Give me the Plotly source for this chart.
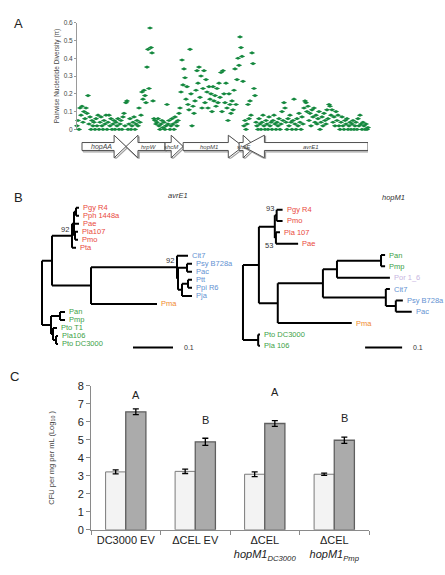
import plotly.graph_objects as go

# ---------------- Panel A data ----------------
WINDOW_STEP_BP = 31
DIVERSITY = [
    0.02, 0.05, 0.0, 0.12, 0.08, 0.13, 0.04, 0.10, 0.06, 0.12,
    0.09, 0.19, 0.03, 0.07, 0.0, 0.05, 0.02, 0.04, 0.0, 0.06,
    0.02, 0.08, 0.0, 0.04, 0.07, 0.02, 0.0, 0.05, 0.03, 0.08,
    0.0, 0.04, 0.08, 0.02, 0.06, 0.0, 0.03, 0.05, 0.0, 0.04,
    0.02, 0.06, 0.0, 0.03, 0.05, 0.0, 0.07, 0.09, 0.02, 0.15,
    0.16, 0.0, 0.03, 0.06, 0.0, 0.02, 0.04, 0.07, 0.0, 0.03,
    0.05, 0.02, 0.12, 0.04, 0.08, 0.21, 0.17, 0.22, 0.19, 0.15,
    0.35, 0.45, 0.23, 0.57, 0.46, 0.43, 0.16, 0.06, 0.05, 0.03,
    0.04, 0.06, 0.02, 0.0, 0.03, 0.05, 0.01, 0.04, 0.0, 0.02,
    0.14, 0.03, 0.05, 0.0, 0.02, 0.06, 0.03, 0.0, 0.07, 0.04,
    0.02, 0.05, 0.09, 0.12, 0.21, 0.39, 0.25, 0.34, 0.29, 0.17,
    0.24, 0.14, 0.11, 0.45, 0.20, 0.02, 0.13, 0.09, 0.16, 0.22,
    0.33, 0.26, 0.35, 0.18, 0.30, 0.12, 0.23, 0.33, 0.15, 0.28,
    0.21, 0.12, 0.24, 0.17, 0.20, 0.10, 0.24, 0.16, 0.19, 0.13,
    0.23, 0.15, 0.26, 0.18, 0.32, 0.10, 0.33, 0.20, 0.15, 0.26,
    0.12, 0.05, 0.20, 0.14, 0.09, 0.16, 0.11, 0.22, 0.34, 0.14,
    0.28, 0.40, 0.36, 0.52, 0.46, 0.41, 0.27, 0.02, 0.05, 0.0,
    0.03, 0.14, 0.06, 0.16, 0.08, 0.43, 0.37, 0.23, 0.19, 0.04,
    0.02, 0.0, 0.06, 0.03, 0.0, 0.04, 0.08, 0.02, 0.0, 0.05,
    0.03, 0.0, 0.07, 0.02, 0.04, 0.0, 0.05, 0.08, 0.03, 0.0,
    0.04, 0.02, 0.06, 0.0, 0.03, 0.10, 0.05, 0.15, 0.12, 0.04,
    0.0, 0.06, 0.02, 0.08, 0.04, 0.0, 0.05, 0.17, 0.03, 0.0,
    0.06, 0.02, 0.09, 0.04, 0.0, 0.07, 0.03, 0.12, 0.16, 0.15,
    0.10, 0.13, 0.05, 0.09, 0.02, 0.11, 0.07, 0.12, 0.04, 0.08,
    0.03, 0.06, 0.10, 0.0, 0.04, 0.07, 0.02, 0.09, 0.05, 0.03,
    0.11, 0.06, 0.14, 0.13, 0.08, 0.11, 0.04, 0.07, 0.02, 0.10,
    0.05, 0.08, 0.02, 0.0, 0.04, 0.07, 0.02, 0.0, 0.05, 0.03,
    0.06, 0.0, 0.02, 0.04, 0.0, 0.03, 0.05, 0.0, 0.02, 0.04,
    0.0, 0.06, 0.02, 0.08, 0.03, 0.0, 0.04, 0.02, 0.0, 0.03,
    0.0, 0.01,
]
POSITIONS = [i * WINDOW_STEP_BP for i in range(len(DIVERSITY))]
DIV_TICKS = [0, 0.1, 0.2, 0.3, 0.4, 0.5, 0.6]

GENES = ["hopAA", "hrpW", "shcM", "hopM1", "shcE", "avrE1"]
GENE_START = [155, 1520, 2730, 3290, 5025, 5150]
GENE_END = [1520, 2730, 3290, 5150, 5520, 9021]
GENE_STRAND = [1, -1, 1, 1, 1, -1]

# ---------------- Panel B data (trees, branch lengths) ----------------
AVRE1_TREE = ("(((((Pgy R4:0.0075,Pph 1448a:0.0075):0.005,Pae:0.0125,(Pla107:0.0075,Pmo:0.0075):0.0025):0.005,"
              "Pta:0.01)92:0.05,((Cit7:0.0275,((Psy B728a:0.0125,Pac:0.0125):0.0225,((Ptt:0.01,Ppi R6:0.01):0.015,"
              "Pja:0.025):0.01):0.0025)92:0.215,Pma:0.165):0.0975):0.025,((Pan:0.0125,Pmp:0.0125):0.0225,"
              "(Pto T1:0.01,(Pla106:0.005,Pto DC3000:0.005):0.0075):0.005):0.0225);")
HOPM1_TREE = ("((((Pgy R4:0.016,Pmo:0.016)93:0.005,(Pla 107:0.011,Pae:0.06)53:0.003):0.043,"
              "((((Pan:0.011,Pmp:0.011):0.119,Por 1_6:0.143):0.038,(Cit7:0.011,(Psy B728a:0.019,Pac:0.043):0.027):0.17):0.122,"
              "Pma:0.2):0.051):0.043,(Pto DC3000:0.005,Pla 106:0.005):0.041);")
SCALE_BAR_LEN = 0.1

GROUP_RED = ["Pgy R4", "Pph 1448a", "Pae", "Pla107", "Pmo", "Pta", "Pla 107"]
GROUP_BLUE = ["Cit7", "Psy B728a", "Pac", "Ptt", "Ppi R6", "Pja"]
GROUP_GREEN = ["Pan", "Pmp", "Pto T1", "Pla106", "Pto DC3000", "Pla 106"]
GROUP_ORANGE = ["Pma"]
GROUP_PURPLE = ["Por 1_6"]

# ---------------- Panel C data ----------------
STRAINS = ["DC3000 EV", "ΔCEL EV", "ΔCEL<br><i>hopM1</i><sub><i>DC3000</i></sub>",
           "ΔCEL<br><i>hopM1</i><sub><i>Pmp</i></sub>"]
DAY0 = [3.22, 3.25, 3.09, 3.09]
DAY0_ERR = [0.11, 0.12, 0.13, 0.06]
DAY3 = [6.56, 4.89, 5.91, 4.98]
DAY3_ERR = [0.16, 0.2, 0.16, 0.17]
LETTERS = ["A", "B", "A", "B"]
LETTER_Y = [7.51, 6.13, 7.64, 6.22]

# ---------------- styles ----------------
FONT = "Arial, Liberation Sans, sans-serif"
W, H = 445, 575
GREEN_PT = "#14883e"
C_RED = "#e9493d"
C_BLUE = "#6392d2"
C_GREEN = "#3d9f47"
C_ORANGE = "#f08a2c"
C_PURPLE = "#c8b6e2"
HEAD_BP = {"avrE1": 660, "hopM1": 460}
DEFAULT_HEAD = 370


def px_x(p):
    return p / W


def px_y(p):
    return 1 - p / H


def color_of(name):
    if name in GROUP_RED:
        return C_RED
    if name in GROUP_BLUE:
        return C_BLUE
    if name in GROUP_GREEN:
        return C_GREEN
    if name in GROUP_ORANGE:
        return C_ORANGE
    if name in GROUP_PURPLE:
        return C_PURPLE
    return "#333"


def parse_newick(s):
    s = s.strip().rstrip(";")
    pos = 0

    def node():
        nonlocal pos
        n = {"children": [], "name": "", "len": 0.0}
        if s[pos] == "(":
            pos += 1
            while True:
                n["children"].append(node())
                if s[pos] == ",":
                    pos += 1
                    continue
                if s[pos] == ")":
                    pos += 1
                    break
        st = pos
        while pos < len(s) and s[pos] not in ":,()":
            pos += 1
        n["name"] = s[st:pos].strip()
        if pos < len(s) and s[pos] == ":":
            pos += 1
            st = pos
            while pos < len(s) and s[pos] not in ",()":
                pos += 1
            n["len"] = float(s[st:pos])
        return n

    return node()


def layout_tree(root):
    leaves, xs, ys, internals = [], [], [], []

    def rec(n, px):
        x = px + n["len"]
        n["x"] = x
        if not n["children"]:
            n["y"] = len(leaves)
            leaves.append(n)
        else:
            for c in n["children"]:
                rec(c, x)
            cy = [c["y"] for c in n["children"]]
            n["y"] = (cy[0] + cy[-1]) / 2
            xs.extend([x, x, None])
            ys.extend([cy[0], cy[-1], None])
            if n["name"]:
                internals.append(n)
        if n["len"] > 0:
            xs.extend([px, x, None])
            ys.extend([n["y"], n["y"], None])

    rec(root, 0.0)
    return leaves, xs, ys, internals


fig = go.Figure()
annotations = []

# ---------- Panel A: scatter ----------
fig.add_trace(go.Scatter(
    x=POSITIONS, y=DIVERSITY, mode="markers", xaxis="x", yaxis="y",
    marker=dict(symbol="diamond-wide", size=4.5, color=GREEN_PT, line=dict(width=0)),
    cliponaxis=False, showlegend=False, hoverinfo="skip"))

# gene map
for g, s, e, st in zip(GENES, GENE_START, GENE_END, GENE_STRAND):
    h = HEAD_BP.get(g, DEFAULT_HEAD)
    b, a = 0.34, 0.97
    if st > 0:
        px_ = [s, e - h, e - h, e, e - h, e - h, s, s]
        py_ = [-b, -b, -a, 0, a, b, b, -b]
        body_c = (s + e - h) / 2
    else:
        px_ = [e, s + h, s + h, s, s + h, s + h, e, e]
        py_ = [-b, -b, -a, 0, a, b, b, -b]
        body_c = (e + s + h) / 2
    # shadow
    fig.add_trace(go.Scatter(
        x=[v + 35 for v in px_], y=[v - 0.12 for v in py_], mode="lines", xaxis="x", yaxis="y4",
        line=dict(color="#a0a0a0", width=1.2), showlegend=False, hoverinfo="skip", cliponaxis=False))
    fig.add_trace(go.Scatter(
        x=px_, y=py_, mode="lines", fill="toself", fillcolor="white", xaxis="x", yaxis="y4",
        line=dict(color="#505050", width=1), showlegend=False, hoverinfo="skip", cliponaxis=False))
    lc = (body_c + (s + e) / 2) / 2
    annotations.append(dict(x=lc, y=0, xref="x", yref="y4", text=f"<i>{g}</i>", showarrow=False,
                            font=dict(family=FONT, size=7 if g == "hopAA" else 6, color="#444")))

# ---------- Panel B: trees ----------
for tree_s, xa, ya, title, sb_x, sb_y, boot_valign in [
    (AVRE1_TREE, "x2", "y2", "avrE1", 0.2275, 17.45, {}),
    (HOPM1_TREE, "x3", "y3", "hopM1", 0.33, 12.15, {"53": "top"}),
]:
    root = parse_newick(tree_s)
    leaves, xs, ys, internals = layout_tree(root)
    fig.add_trace(go.Scatter(x=xs, y=ys, mode="lines", xaxis=xa, yaxis=ya,
                             line=dict(color="black", width=2), showlegend=False,
                             hoverinfo="skip", cliponaxis=False))
    for lf in leaves:
        annotations.append(dict(x=lf["x"], y=lf["y"], xref=xa, yref=ya, text=lf["name"],
                                showarrow=False, xanchor="left", xshift=2,
                                font=dict(family=FONT, size=7.5, color=color_of(lf["name"]))))
    for n in internals:
        va = boot_valign.get(n["name"], "bottom")
        annotations.append(dict(x=n["x"], y=n["y"], xref=xa, yref=ya, text=n["name"],
                                showarrow=False, xanchor="right", yanchor=va, xshift=-1,
                                yshift=(-1 if va == "top" else 0),
                                font=dict(family=FONT, size=7.5, color="#333")))
    # scale bar
    fig.add_trace(go.Scatter(x=[sb_x, sb_x + SCALE_BAR_LEN], y=[sb_y, sb_y], mode="lines",
                             xaxis=xa, yaxis=ya, line=dict(color="black", width=2),
                             showlegend=False, hoverinfo="skip", cliponaxis=False))
    annotations.append(dict(x=sb_x + SCALE_BAR_LEN, y=sb_y, xref=xa, yref=ya, text=str(SCALE_BAR_LEN),
                            showarrow=False, xanchor="left", xshift=9,
                            font=dict(family=FONT, size=7, color="#333")))

annotations.append(dict(x=px_x(178), y=px_y(194), xref="paper", yref="paper", text="<i>avrE1</i>",
                        showarrow=False, font=dict(family=FONT, size=7.5, color="#333")))
annotations.append(dict(x=px_x(407), y=px_y(196), xref="paper", yref="paper", text="<i>hopM1</i>",
                        showarrow=False, font=dict(family=FONT, size=7.5, color="#333")))

# ---------- Panel C: bars ----------
fig.add_trace(go.Bar(x=STRAINS, y=DAY0, xaxis="x5", yaxis="y5", name="0",
                     marker=dict(color="#f3f3f3", line=dict(color="#7a7a7a", width=1)),
                     error_y=dict(type="data", array=DAY0_ERR, color="black", thickness=1.3, width=3),
                     showlegend=False, hoverinfo="skip"))
fig.add_trace(go.Bar(x=STRAINS, y=DAY3, xaxis="x5", yaxis="y5", name="3",
                     marker=dict(color="#ababab", line=dict(color="#5f5f5f", width=1.3)),
                     error_y=dict(type="data", array=DAY3_ERR, color="black", thickness=1.3, width=3),
                     showlegend=False, hoverinfo="skip"))
for cat, let, ly in zip(STRAINS, LETTERS, LETTER_Y):
    annotations.append(dict(x=cat, y=ly, xref="x5", yref="y5", text=let, showarrow=False, xshift=10,
                            font=dict(family=FONT, size=11, color="#222")))

# panel letters
for lab, x, y in [("A", 12, 8), ("B", 12, 196), ("C", 8, 388)]:
    annotations.append(dict(x=px_x(x), y=px_y(y), xref="paper", yref="paper", text=lab, showarrow=False,
                            font=dict(family=FONT, size=13, color="#222")))

hidden = dict(visible=False, showgrid=False, zeroline=False)

fig.update_layout(
    width=W, height=H, margin=dict(l=0, r=0, t=0, b=0),
    paper_bgcolor="white", plot_bgcolor="white", showlegend=False,
    font=dict(family=FONT, color="#333"),
    barmode="group", bargap=0.42, bargroupgap=0,
    xaxis=dict(domain=[px_x(77), px_x(368)], range=[0, 9021], anchor="y", **hidden),
    yaxis=dict(domain=[px_y(126), px_y(17)], range=[0, 0.6], anchor="x",
               tickvals=DIV_TICKS, ticktext=[f"{v:g}" for v in DIV_TICKS],
               showline=True, linecolor="#9a9a9a", linewidth=1, ticks="outside", ticklen=2,
               tickcolor="#9a9a9a", tickfont=dict(size=6.5, color="#444"), showgrid=False, zeroline=False,
               title=dict(text="Pairwise Nucleotide Diversity (π)", font=dict(size=6.5, color="#444"), standoff=3)),
    yaxis4=dict(domain=[px_y(156), px_y(131)], range=[-1.05, 1.05], anchor="x", **hidden),
    xaxis2=dict(domain=[px_x(30), px_x(230)], range=[-0.03, 0.47], anchor="y2", **hidden),
    yaxis2=dict(domain=[px_y(355), px_y(195)], range=[18.2, -1.345], anchor="x2", **hidden),
    xaxis3=dict(domain=[px_x(225), 1.0], range=[-0.0486, 0.5459], anchor="y3", **hidden),
    yaxis3=dict(domain=[px_y(355), px_y(195)], range=[12.69, -1.12], anchor="x3", **hidden),
    xaxis5=dict(domain=[px_x(91), px_x(369)], anchor="y5", showline=True, linecolor="#8a8a8a",
                ticks="outside", tickson="boundaries", ticklen=4, tickcolor="#8a8a8a", tickangle=0,
                tickfont=dict(size=11, color="#222"), showgrid=False, zeroline=False),
    yaxis5=dict(domain=[px_y(535), px_y(388)], range=[0, 8], anchor="x5", dtick=1,
                showline=True, linecolor="#8a8a8a", ticks="outside", ticklen=4, tickcolor="#8a8a8a",
                tickfont=dict(size=11, color="#222"), showgrid=False, zeroline=False,
                title=dict(text="CFU per mg per mL (Log<sub>10</sub> )", font=dict(size=7.5, color="#444"),
                           standoff=22)),
    annotations=annotations,
)

fig.write_html("out.html", config={"displayModeBar": False},
               post_script="document.body.style.margin='0';document.body.style.overflow='hidden';")
